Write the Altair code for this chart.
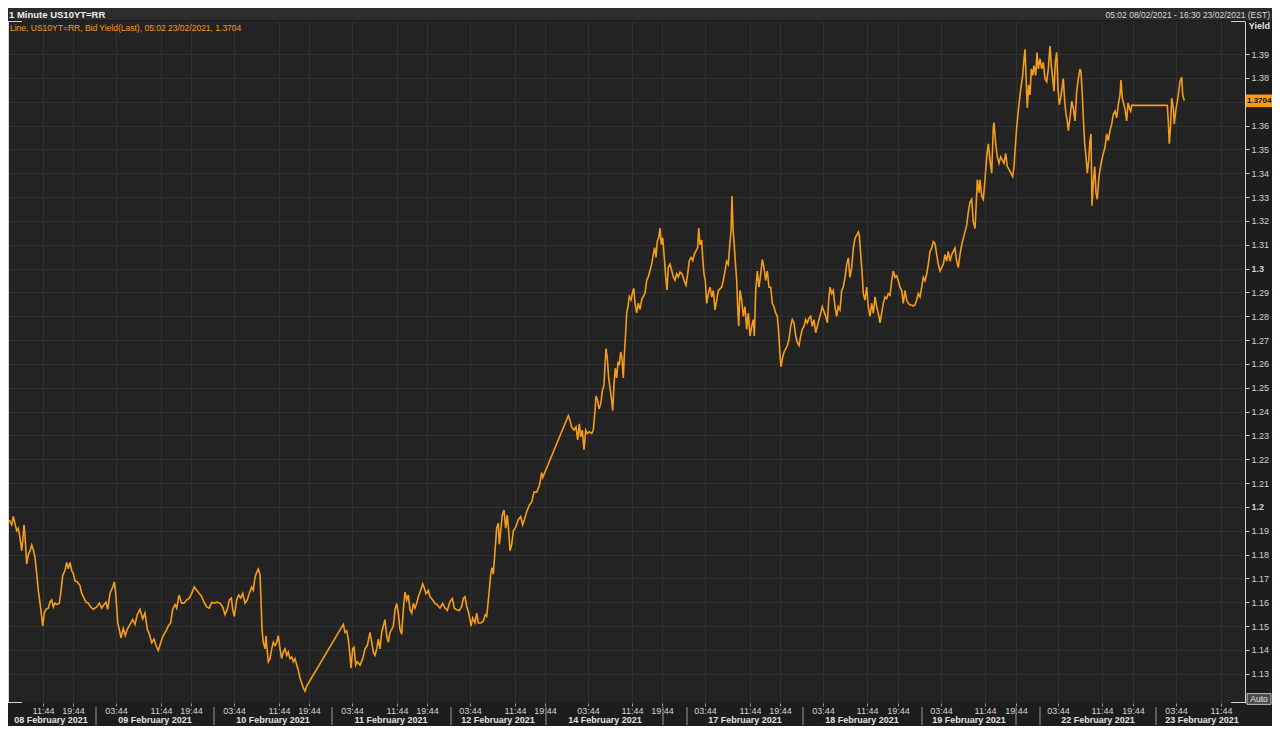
import altair as alt
import pandas as pd

# ---------------- data (x = bar index on Eikon's compressed session axis) ----------------
bar_index = [
    9.3, 11.7, 13.3, 15, 16.7, 18.3, 20, 21.7, 22.7, 24, 25, 26.7, 28.3, 30, 31.7, 33.3, 35, 36.7, 38.3, 40,
    41.7, 42.7, 44.3, 46, 48.3, 50, 51.7, 53.3, 55, 56.7, 59.3, 60.7, 62.7, 65, 66.7, 68.3, 70, 71.7, 73.3, 75,
    77.3, 80, 81.7, 83.3, 86, 88.3, 90.7, 93.3, 96.7, 99.3, 101.7, 104, 106, 107.7, 110, 112.7, 114.3, 115.7, 116.7, 117.7,
    119.3, 121, 123.3, 125.3, 127.3, 130, 132.7, 135, 137.3, 140, 142.7, 145, 147.3, 149.3, 151.7, 154, 156, 158.3, 160.7, 163.3,
    166, 168.3, 170.7, 172.7, 175, 176.7, 179, 181.7, 184, 186.7, 189.3, 191.7, 194.3, 196.7, 199.3, 201.7, 204, 206.7, 209.3, 211.7,
    214, 216.7, 220, 222.7, 225, 227.3, 229.3, 231.3, 232.7, 234.3, 236.7, 238.7, 240.7, 242.7, 245, 247.3, 249.3,
    251.7, 253.3, 255, 256.7, 258.3, 260, 261, 262, 263.3, 265, 266, 267.3, 268.3, 270, 271.7, 273.3, 275, 276.7, 278.3, 280,
    281.7, 283.3, 285, 286.7, 288.3, 290, 291.7, 293.3, 295, 296.7, 298.3, 300, 301.7, 303.3, 305, 306.7,
    343.3, 345, 346.7, 348.3, 350, 351, 352.7, 354, 355.7, 357.3, 360, 362.7, 365, 367.3, 370, 371.7, 373.3, 375, 376.7, 378.3,
    380, 381.7, 383.3, 385, 386.7, 388.3, 390, 391.7, 393.3, 395, 396.7, 398.3, 400, 401.7, 403.3, 405, 406.7, 408.3, 410, 411.7,
    413.3, 415, 416.7, 418.3, 420.7, 422.7, 424, 426, 428.3, 430, 432.7, 435, 437.3, 440, 442.7, 445, 447.3, 450, 452.3, 454.3,
    456.7, 459.3, 461.7, 463.3, 465, 466.7, 468.3, 470, 471, 472.7, 475, 476.7, 478.3, 480.7, 483.3, 485.3, 486.7, 488, 489.3, 490.7,
    492, 493.3,
    495, 496.7, 498.3, 499.3, 500.7, 502.3, 504, 505.7, 507.3, 508.7, 510, 511.7, 513.3, 516, 518.3, 520.7, 522.7, 524.3, 526.7, 529.3,
    531.7, 534, 536.7, 539.3, 541.7, 542.7, 568.3, 570, 571.7, 574, 576, 577.7, 579.3, 580.7, 582.3, 584, 585.7, 587.3, 589.3, 591.7,
    593.3, 595, 596, 597.7, 599, 600.7, 602.3, 604, 605, 606, 607.3, 608.7, 610, 611.7, 612.7, 614, 615.3, 616.7, 618, 619.3,
    620.7, 622, 623.3, 624.3, 625.7, 626.7, 628, 629.3, 631, 632.3, 633.7, 635, 636.7, 638.3, 640, 641.7, 643.3, 645, 646.7, 648.3,
    650, 651.7, 653.3, 654.7, 656, 657.3, 658.7, 660, 661.3, 662.7, 664.3, 665.7, 667, 668.3, 670, 671.7, 673.3, 675, 676.7, 678.3,
    680, 682, 684, 686, 687.7, 689.3, 691, 692.7, 694.3, 696, 697.7, 698.7,
    700, 701.7, 702.7, 704, 705.3, 706.7, 708.3, 710, 711.7, 713.3, 715, 716.7, 718.3, 720, 721.7, 723.3, 725, 726.7, 728.3, 730,
    731, 732, 733, 734, 735.3, 736.7, 737.7, 738.7, 740, 741.7, 743.3, 745, 746.7, 748.3, 750, 751.7, 753.3, 754.3, 755.7, 757.3,
    759, 760.7, 762.3, 764, 765.7, 767.3, 769, 770.7, 772.3, 774, 775.7, 777.3, 778.7, 780, 781, 782.3, 784, 785.7, 787.3, 789,
    790.7, 792.3, 794, 795.7, 797.3, 799, 800.7, 802.3, 804, 805.7, 807.3, 809, 810.7, 812.3, 814, 815.7, 817.3, 819, 820.7, 822.3,
    824, 825.7, 827.3, 828.7, 830, 831.7, 833.3, 835, 836.7, 838.3, 840, 841.7, 843.3, 845, 846.7, 848.3, 850, 851.7, 853.3, 855,
    856.7, 858.3, 859.3, 860.7, 862, 863.3, 865, 866.7, 868.3, 870, 871.7, 873.3, 875, 876.7, 878.3, 880, 881.7, 883.3, 885, 886.7,
    888.3, 890, 891.7, 893.3, 895, 896.7, 898.3, 900, 901.7, 903.3, 905, 906.7, 908.3, 910, 911.7, 913.3, 915, 916.7, 918.3, 920,
    921.7, 923.3, 925, 926.7, 928.3, 930, 931.7, 933.3, 935, 936.7, 938.3,
    940, 943.3, 945, 946.7, 948.3, 950, 951.7, 953.3, 955, 956.7, 958.3, 960, 961.7, 963.3, 965, 966.7, 968.3, 970, 971.7, 973.3,
    975, 976, 977.3, 979, 980, 981.7, 983.3, 985, 986.7, 988.3, 990, 991.7, 993.3, 994, 995.7, 997.3, 999, 1000.7, 1002.3, 1004,
    1005.7, 1007.3, 1009.3, 1011, 1012.7, 1014, 1015.3, 1016.7, 1018.3, 1020, 1021.3, 1022.7, 1024, 1025, 1026, 1027.3, 1028.7, 1030, 1031.3, 1032.7,
    1034, 1035.7, 1037, 1038.3, 1040, 1041.7, 1043.3, 1045, 1046.7, 1048.3, 1050, 1051.3, 1052.7, 1054, 1055.3, 1056.7, 1058, 1059.3, 1060.7, 1062,
    1063.3, 1064.7, 1066, 1067.3, 1068.3, 1070, 1071.7, 1073.3, 1075, 1076.7, 1078.3, 1080, 1081, 1082.3, 1083.3, 1084.7, 1086, 1087.3, 1088.7, 1090,
    1091, 1092, 1093.3, 1094.7, 1096, 1097.3, 1098.7, 1100, 1101.7, 1103.3, 1105, 1106.7, 1108.3, 1110, 1111.7, 1113.3, 1115, 1116.7, 1118.3, 1120,
    1121, 1122.3, 1124, 1125.3, 1126.7, 1128, 1129.3, 1130.7, 1131.7, 1167.3, 1168.3, 1169.3, 1170.7, 1171.7, 1173.3, 1174.3, 1175.7, 1177.3, 1178.7, 1180,
    1181.7, 1182.7, 1184.3,
]

yield_values = [
    1.1945, 1.1925, 1.1960, 1.1930, 1.1900, 1.1910, 1.1870, 1.1815, 1.1856, 1.1925, 1.1880, 1.1760, 1.1800, 1.1815, 1.1840, 1.1820, 1.1788, 1.1720, 1.1650, 1.1596,
    1.1540, 1.1500, 1.1555, 1.1570, 1.1575, 1.1600, 1.1610, 1.1580, 1.1596, 1.1590, 1.1596, 1.1637, 1.1712, 1.1733, 1.1767, 1.1740, 1.1767, 1.1733, 1.1720, 1.1690,
    1.1685, 1.1670, 1.1637, 1.1623, 1.1600, 1.1596, 1.1580, 1.1570, 1.1580, 1.1596, 1.1575, 1.1590, 1.1600, 1.1570, 1.1637, 1.1664, 1.1685, 1.1637, 1.1580, 1.1514,
    1.1486, 1.1450, 1.1490, 1.1460, 1.1486, 1.1507, 1.1527, 1.1507, 1.1548, 1.1570, 1.1530, 1.1555, 1.1486, 1.1466, 1.1430, 1.1445, 1.1418, 1.1397, 1.1430, 1.1460,
    1.1480, 1.1500, 1.1514, 1.1570, 1.1590, 1.1575, 1.1630, 1.1596, 1.1596, 1.1610, 1.1617, 1.1637, 1.1664, 1.1650, 1.1637, 1.1623, 1.1600, 1.1580, 1.1575, 1.1600,
    1.1596, 1.1600, 1.1596, 1.1580, 1.1548, 1.1570, 1.1610, 1.1617, 1.1570, 1.1540, 1.1610, 1.1630, 1.1617, 1.1637, 1.1596, 1.1610, 1.1637,
    1.1664, 1.1650, 1.1705, 1.1725, 1.1739, 1.1718, 1.1610, 1.1486, 1.1432, 1.1404, 1.1459, 1.1391, 1.1350, 1.1363, 1.1404, 1.1432, 1.1418, 1.1432, 1.1459, 1.1404,
    1.1363, 1.1391, 1.1404, 1.1377, 1.1391, 1.1363, 1.1370, 1.1350, 1.1363, 1.1336, 1.1316, 1.1282, 1.1261, 1.1241, 1.1227, 1.1248,
    1.1507, 1.1473, 1.1480, 1.1445, 1.1377, 1.1323, 1.1404, 1.1411, 1.1336, 1.1350, 1.1336, 1.1363, 1.1404, 1.1418, 1.1473, 1.1432, 1.1391, 1.1377, 1.1404, 1.1445,
    1.1404, 1.1473, 1.1500, 1.1527, 1.1459, 1.1432, 1.1473, 1.1486, 1.1500, 1.1568, 1.1595, 1.1554, 1.1486, 1.1466, 1.1568, 1.1643, 1.1609, 1.1630, 1.1568, 1.1554,
    1.1595, 1.1575, 1.1595, 1.1623, 1.1650, 1.1677, 1.1664, 1.1636, 1.1650, 1.1623, 1.1609, 1.1595, 1.1589, 1.1575, 1.1595, 1.1575, 1.1565, 1.1602, 1.1616, 1.1575,
    1.1568, 1.1565, 1.1582, 1.1616, 1.1623, 1.1582, 1.1561, 1.1527, 1.1500, 1.1534, 1.1513, 1.1554, 1.1513, 1.1513, 1.1520, 1.1548, 1.1541, 1.1595, 1.1650, 1.1718,
    1.1745, 1.1718,
    1.1816, 1.1911, 1.1932, 1.1843, 1.1898, 1.1966, 1.1987, 1.1911, 1.1966, 1.1898, 1.1816, 1.1843, 1.1898, 1.1918, 1.1946, 1.1959, 1.1925, 1.1946, 1.1980, 1.2007,
    1.2021, 1.2062, 1.2062, 1.2089, 1.2144, 1.2123, 1.2383, 1.2363, 1.2335, 1.2322, 1.2335, 1.2281, 1.2349, 1.2294, 1.2322, 1.2240, 1.2322, 1.2308, 1.2315, 1.2308,
    1.2322, 1.2404, 1.2465, 1.2445, 1.2411, 1.2431, 1.2486, 1.2513, 1.2595, 1.2664, 1.2623, 1.2541, 1.2500, 1.2445, 1.2404, 1.2513, 1.2582, 1.2541, 1.2609, 1.2595,
    1.2650, 1.2623, 1.2541, 1.2636, 1.2732, 1.2814, 1.2841, 1.2883, 1.2869, 1.2896, 1.2917, 1.2855, 1.2814, 1.2855, 1.2828, 1.2869, 1.2883, 1.2896, 1.2951, 1.2965,
    1.2992, 1.3019, 1.3060, 1.3088, 1.3047, 1.3115, 1.3129, 1.3170, 1.3101, 1.3129, 1.3047, 1.2965, 1.2910, 1.3006, 1.3019, 1.2992, 1.2965, 1.2951, 1.2978, 1.2965,
    1.2985, 1.2978, 1.2951, 1.2930, 1.2978, 1.3033, 1.3047, 1.3033, 1.3060, 1.3074, 1.3088, 1.3170,
    1.3100, 1.3120, 1.3045, 1.2977, 1.2950, 1.2854, 1.2895, 1.2922, 1.2881, 1.2908, 1.2827, 1.2868, 1.2908, 1.2915, 1.2922, 1.2950, 1.2990, 1.3031, 1.3018, 1.3113,
    1.3154, 1.3304, 1.3168, 1.3113, 1.3031, 1.2950, 1.2840, 1.2758, 1.2908, 1.2868, 1.2800, 1.2840, 1.2745, 1.2813, 1.2717, 1.2758, 1.2786, 1.2717, 1.2908, 1.2990,
    1.2922, 1.2977, 1.3038, 1.3004, 1.2950, 1.2990, 1.2922, 1.2922, 1.2854, 1.2840, 1.2813, 1.2800, 1.2731, 1.2636, 1.2588, 1.2622, 1.2649, 1.2663, 1.2677, 1.2704,
    1.2758, 1.2786, 1.2772, 1.2717, 1.2690, 1.2677, 1.2717, 1.2745, 1.2758, 1.2786, 1.2772, 1.2792, 1.2800, 1.2758, 1.2786, 1.2731, 1.2758, 1.2786, 1.2813, 1.2840,
    1.2820, 1.2800, 1.2772, 1.2868, 1.2922, 1.2895, 1.2908, 1.2840, 1.2800, 1.2840, 1.2827, 1.2908, 1.2922, 1.2963, 1.3018, 1.3045, 1.2963, 1.3004, 1.3086, 1.3127,
    1.3140, 1.3154, 1.3140, 1.3059, 1.2990, 1.2895, 1.2868, 1.2922, 1.2840, 1.2800, 1.2854, 1.2813, 1.2881, 1.2840, 1.2813, 1.2772, 1.2813, 1.2854, 1.2881, 1.2874,
    1.2895, 1.2888, 1.2949, 1.2990, 1.2963, 1.2970, 1.2949, 1.2922, 1.2908, 1.2854, 1.2908, 1.2868, 1.2854, 1.2847, 1.2847, 1.2843, 1.2847, 1.2868, 1.2895, 1.2881,
    1.2922, 1.2963, 1.2949, 1.2977, 1.3018, 1.3072, 1.3086, 1.3113, 1.3106, 1.3059, 1.3018,
    1.2990, 1.3018, 1.3059, 1.3031, 1.3072, 1.3031, 1.3059, 1.3072, 1.3086, 1.3031, 1.3004, 1.3059, 1.3100, 1.3127, 1.3154, 1.3182, 1.3237, 1.3278, 1.3291, 1.3196,
    1.3168, 1.3250, 1.3373, 1.3319, 1.3373, 1.3305, 1.3291, 1.3373, 1.3469, 1.3524, 1.3455, 1.3400, 1.3592, 1.3613, 1.3524, 1.3469, 1.3442, 1.3469, 1.3455, 1.3442,
    1.3483, 1.3428, 1.3414, 1.3400, 1.3387, 1.3428, 1.3510, 1.3592, 1.3661, 1.3729, 1.3770, 1.3811, 1.3880, 1.3920, 1.3811, 1.3674, 1.3770, 1.3729, 1.3838, 1.3811,
    1.3852, 1.3811, 1.3907, 1.3838, 1.3880, 1.3838, 1.3866, 1.3797, 1.3784, 1.3838, 1.3934, 1.3852, 1.3797, 1.3743, 1.3866, 1.3907, 1.3756, 1.3688, 1.3715, 1.3756,
    1.3797, 1.3702, 1.3647, 1.3620, 1.3579, 1.3633, 1.3702, 1.3674, 1.3620, 1.3743, 1.3797, 1.3838, 1.3825, 1.3729, 1.3633, 1.3524, 1.3469, 1.3400, 1.3455, 1.3537,
    1.3565, 1.3264, 1.3360, 1.3428, 1.3319, 1.3291, 1.3373, 1.3414, 1.3455, 1.3483, 1.3510, 1.3565, 1.3537, 1.3579, 1.3606, 1.3647, 1.3661, 1.3633, 1.3688, 1.3729,
    1.3791, 1.3715, 1.3688, 1.3661, 1.3620, 1.3695, 1.3674, 1.3661, 1.3685, 1.3685, 1.3620, 1.3524, 1.3606, 1.3715, 1.3674, 1.3606, 1.3661, 1.3702, 1.3743, 1.3784,
    1.3804, 1.3729, 1.3704,
]

last_value = 1.3704

time_tick_pos = [43, 73, 116, 161, 191, 234, 279, 309, 352, 397, 427, 470, 515, 545, 588, 632, 662,
                 705, 750, 780, 823, 867, 898, 941, 985, 1016, 1058, 1102, 1133, 1176, 1221]
time_tick_labels = ["11:44", "19:44",
                    "03:44", "11:44", "19:44", "03:44", "11:44", "19:44", "03:44", "11:44", "19:44",
                    "03:44", "11:44", "19:44", "03:44", "11:44", "19:44", "03:44", "11:44", "19:44",
                    "03:44", "11:44", "19:44", "03:44", "11:44", "19:44", "03:44", "11:44", "19:44",
                    "03:44", "11:44"]

date_labels = ["08 February 2021", "09 February 2021", "10 February 2021", "11 February 2021",
               "12 February 2021", "14 February 2021", "17 February 2021", "18 February 2021",
               "19 February 2021", "22 February 2021", "23 February 2021"]
date_label_pos = [51, 155, 273, 391, 498, 605, 745, 862, 969, 1098, 1202]
day_break_pos = [96, 214, 332, 451, 546, 663, 687, 803, 922, 1016, 1040, 1156]

y_ticks = [1.13, 1.14, 1.15, 1.16, 1.17, 1.18, 1.19, 1.20, 1.21, 1.22, 1.23, 1.24, 1.25,
           1.26, 1.27, 1.28, 1.29, 1.30, 1.31, 1.32, 1.33, 1.34, 1.35, 1.36, 1.37, 1.38, 1.39]

header_title = "1 Minute US10YT=RR"
header_range = "05:02 08/02/2021 - 16:30 23/02/2021 (EST)"
legend_text = "Line, US10YT=RR, Bid Yield(Last), 05:02 23/02/2021, 1.3704"

# ---------------- styling ----------------
ORANGE = "#f59d16"
BG = "#1d1d1d"
PLOT_BG = "#232323"
GRID = "#313131"
TXT = "#d2d2d2"
FONT = "Liberation Sans"
W, H = 1237, 682
TOP = 13

x_scale = alt.Scale(domain=[8, 1245], nice=False, zero=False)
y_scale = alt.Scale(domain=[1.1177, 1.4039], nice=False, zero=False)

df = pd.DataFrame({"bar": bar_index, "yield": yield_values})

pos_js = "[" + ",".join(str(p) for p in time_tick_pos) + "]"
lab_js = "[" + ",".join("'" + l + "'" for l in time_tick_labels) + "]"

x_axis = alt.Axis(values=time_tick_pos, labelExpr=f"{lab_js}[indexof({pos_js}, datum.value)]",
                  grid=True, gridColor=GRID, gridWidth=1, domain=False,
                  tickColor="#9a9a9a", tickSize=3, labelPadding=0, labelFontSize=9,
                  labelColor=TXT, labelFont=FONT, title=None, labelFlush=False,
                  labelOverlap=False)
y_axis = alt.Axis(orient="right", values=y_ticks, grid=True, gridColor=GRID,
                  labelExpr="round(datum.value*100) == 137 ? '' : format(datum.value, '.2~f')",
                  domain=True, domainColor="#cfcfcf", tickColor="#cfcfcf", tickSize=4,
                  labelPadding=2, labelFontSize=9, labelColor=TXT, labelFont=FONT,
                  labelFontWeight={"condition": {"test": "round(datum.value*100) % 10 === 0",
                                                 "value": "bold"}, "value": "normal"},
                  title=None, labelOverlap=False, labelFlush=False)


def X(field="bar"):
    return alt.X(f"{field}:Q", scale=x_scale, title=None, axis=x_axis)


def Y(field="yield"):
    return alt.Y(f"{field}:Q", scale=y_scale, title=None, axis=y_axis)


line = alt.Chart(df).mark_line(color=ORANGE, strokeWidth=1.6, clip=True).encode(x=X(), y=Y())

dates_df = pd.DataFrame({"bar": date_label_pos, "label": date_labels})
dates = alt.Chart(dates_df).mark_text(font=FONT, fontSize=9, fontWeight="bold", color="#e2e2e2",
                                      baseline="middle").encode(
    x=X(), y=alt.value(H + 17), text="label:N")

breaks_df = pd.DataFrame({"bar": day_break_pos})
breaks = alt.Chart(breaks_df).mark_rule(color="#9a9a9a", strokeWidth=1).encode(
    x=X(), y=alt.value(H + 4), y2=alt.value(H + 22))

one = pd.DataFrame({"yield": [last_value]})

header_bar = alt.Chart(one).mark_rect(color="#2c2c2c").encode(
    x=alt.value(-10), x2=alt.value(1300), y=alt.value(-TOP), y2=alt.value(-1))

title_txt = alt.Chart(one).mark_text(text=header_title, font=FONT, fontSize=9.5, fontWeight="bold",
                                     color="#ececec", align="left", baseline="middle").encode(
    x=alt.value(1), y=alt.value(-6))

range_txt = alt.Chart(one).mark_text(text=header_range, font=FONT, fontSize=8.5, color="#d8d8d8",
                                     align="right", baseline="middle").encode(
    x=alt.value(1262), y=alt.value(-6))

legend_txt = alt.Chart(one).mark_text(text=legend_text, font=FONT, fontSize=8.5, color=ORANGE,
                                      align="left", baseline="middle").encode(
    x=alt.value(2), y=alt.value(7))

yield_title = alt.Chart(one).mark_text(text="Yield", font=FONT, fontSize=9, fontWeight="bold",
                                       color="#e2e2e2", align="right", baseline="middle").encode(
    x=alt.value(1262), y=alt.value(5))

last_box = alt.Chart(one).mark_point(shape="M-1,-0.42H1V0.42H-1Z", size=30 * 30, filled=True,
                                     opacity=1, color=ORANGE).encode(x=alt.value(1253), y=Y())

last_txt = alt.Chart(one).mark_text(text="1.3704", font=FONT, fontSize=8, fontWeight="bold",
                                    color="#111111", align="left", baseline="middle").encode(
    x=alt.value(1239), y=Y())

auto_box = alt.Chart(one).mark_point(shape="M-1,-0.45H1V0.45H-1Z", size=24 * 24, filled=True,
                                     opacity=1, color="#4a4a4a", stroke="#bdbdbd",
                                     strokeWidth=1).encode(x=alt.value(1251), y=alt.value(H - 4))

auto_txt = alt.Chart(one).mark_text(text="Auto", font=FONT, fontSize=8.5, color="#e6e6e6",
                                    align="center", baseline="middle").encode(
    x=alt.value(1251), y=alt.value(H - 4))

frame_color = "#d6d6d6"
left_edge = alt.Chart(one).mark_rule(color=frame_color, strokeWidth=1).encode(
    x=alt.value(0.5), y=alt.value(0), y2=alt.value(H))
tl = alt.Chart(one).mark_rule(color=frame_color).encode(x=alt.value(0), x2=alt.value(14), y=alt.value(0.5))
bl = alt.Chart(one).mark_rule(color=frame_color).encode(x=alt.value(0), x2=alt.value(14), y=alt.value(H - 0.5))
tr = alt.Chart(one).mark_rule(color=frame_color).encode(x=alt.value(W - 14), x2=alt.value(W), y=alt.value(0.5))
br = alt.Chart(one).mark_rule(color=frame_color).encode(x=alt.value(W - 14), x2=alt.value(W), y=alt.value(H - 0.5))

chart = alt.layer(
    line, header_bar, dates, breaks, title_txt, range_txt, legend_txt, yield_title,
    last_box, last_txt, auto_box, auto_txt, left_edge, tl, bl, tr, br,
).properties(
    width=W, height=H,
    autosize=alt.AutoSizeParams(type="none"),
    padding={"left": 0, "top": TOP, "right": 27, "bottom": 718 - TOP - H},
    background=BG,
).configure_view(fill=PLOT_BG, strokeWidth=0)

chart.save("out.html", embed_options={"renderer": "svg", "actions": False})
